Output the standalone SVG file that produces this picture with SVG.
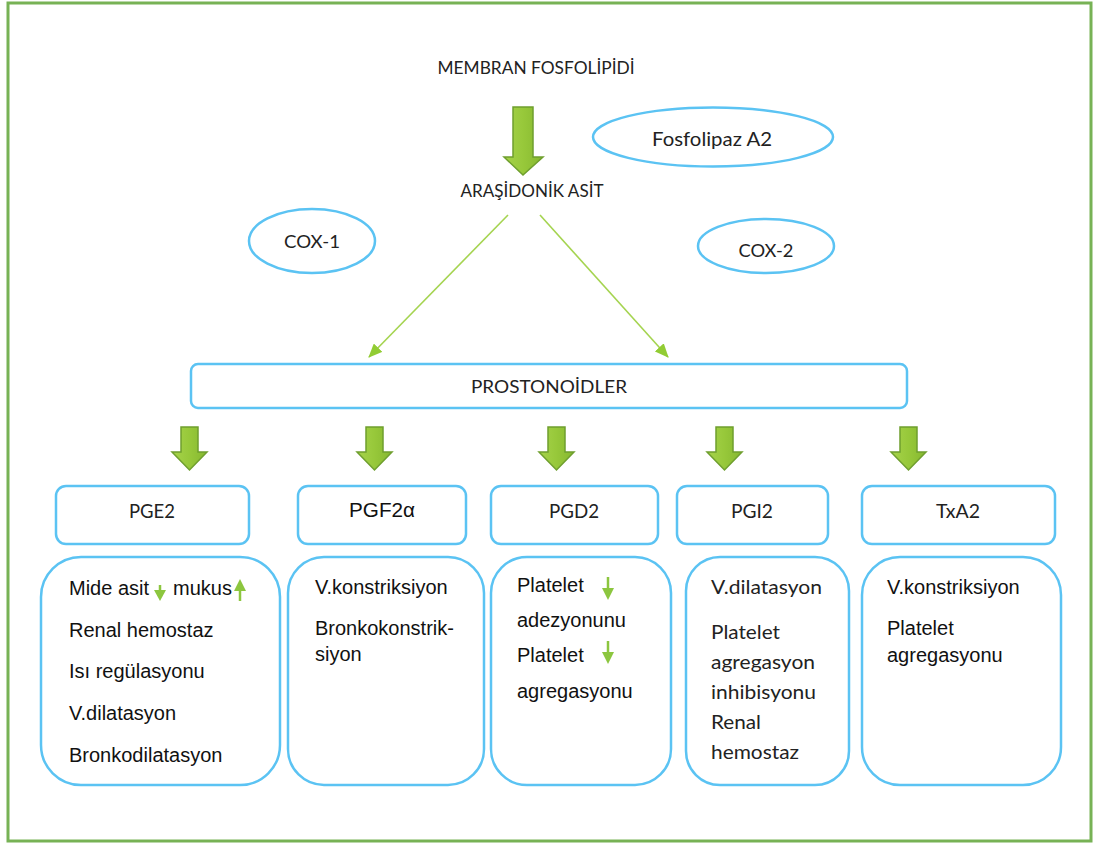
<svg xmlns="http://www.w3.org/2000/svg" width="1094" height="844" viewBox="0 0 1094 844">
<defs>
<style>
.cal{font-family:Lato,"Open Sans","Liberation Sans",sans-serif;fill:#222}
.ar{font-family:"Liberation Sans",Arial,sans-serif;font-size:20px;fill:#111}
.el{fill:#fff;stroke:#5bc3f3;stroke-width:2.5}
.bx{fill:#fff;stroke:#5bc3f3;stroke-width:2.5}
.big{fill:url(#g);stroke:#6f9f2e;stroke-width:1.5}
.con{stroke:#a5d450;stroke-width:1.6;fill:none}
.sm{fill:#8cc63f}
.smln{stroke:#8cc63f;stroke-width:2.5}
</style>
<linearGradient id="g" x1="0" y1="0" x2="1" y2="0">
<stop offset="0" stop-color="#a6d34a"/>
<stop offset="0.5" stop-color="#97c83a"/>
<stop offset="1" stop-color="#86b830"/>
</linearGradient>
<marker id="ah" viewBox="0 0 14 12" refX="13" refY="6" markerWidth="14" markerHeight="12" markerUnits="userSpaceOnUse" orient="auto">
<path d="M0,0 L14,6 L0,12 Z" fill="#92cc34"/>
</marker>
</defs>
<rect x="0" y="0" width="1094" height="844" fill="#fff"/>
<rect x="8" y="3" width="1083" height="838" fill="none" stroke="#77b255" stroke-width="3"/>

<g id="membran">
<text class="cal" x="536" y="74" font-size="18" text-anchor="middle" textLength="197" lengthAdjust="spacingAndGlyphs">MEMBRAN FOSFOLİPİDİ</text>
</g>
<g id="arrow-main">
<polygon class="big" points="513,107 533,107 533,157 543,157 523,175 504,157 513,157"/>
</g>
<g id="fosfolipaz">
<ellipse class="el" cx="713" cy="137" rx="120" ry="29.5"/>
<text class="cal" x="712" y="146" font-size="19" text-anchor="middle" textLength="120" lengthAdjust="spacingAndGlyphs">Fosfolipaz A2</text>
</g>
<g id="arasidonik">
<text class="cal" x="532" y="197" font-size="18" text-anchor="middle" textLength="143" lengthAdjust="spacingAndGlyphs">ARAŞİDONİK ASİT</text>
</g>
<g id="cox1">
<ellipse class="el" cx="312" cy="241" rx="63" ry="32"/>
<text class="cal" x="312" y="248" font-size="18" text-anchor="middle" textLength="56" lengthAdjust="spacingAndGlyphs">COX-1</text>
</g>
<g id="cox2">
<ellipse class="el" cx="766" cy="246" rx="68" ry="27"/>
<text class="cal" x="766" y="257" font-size="18" text-anchor="middle" textLength="55" lengthAdjust="spacingAndGlyphs">COX-2</text>
</g>

<g id="connectors">
<line class="con" x1="508" y1="215" x2="369" y2="357" marker-end="url(#ah)"/>
<line class="con" x1="540" y1="215" x2="668" y2="357" marker-end="url(#ah)"/>
</g>

<g id="prostonoidler">
<rect class="bx" x="191" y="364" width="716" height="44" rx="7"/>
<text class="cal" x="549" y="393" font-size="18" text-anchor="middle" textLength="156" lengthAdjust="spacingAndGlyphs">PROSTONOİDLER</text>
</g>

<g id="down-arrows">
<polygon class="big" points="181,427 198,427 198,452 207,452 189.5,470 172,452 181,452"/>
<polygon class="big" points="366,427 383,427 383,452 392,452 374.5,470 357,452 366,452"/>
<polygon class="big" points="548,427 565,427 565,452 574,452 556.5,470 539,452 548,452"/>
<polygon class="big" points="716,427 733,427 733,452 742,452 724.5,470 707,452 716,452"/>
<polygon class="big" points="900,427 917,427 917,452 926,452 908.5,470 891,452 900,452"/>
</g>

<g id="pge2">
<rect class="bx" x="56" y="486" width="193" height="58" rx="10"/>
<text class="cal" x="152" y="518" font-size="19" text-anchor="middle" textLength="46" lengthAdjust="spacingAndGlyphs">PGE2</text>
</g>
<g id="pgf2a">
<rect class="bx" x="298" y="486" width="168" height="58" rx="10"/>
<text class="ar" x="382" y="517" text-anchor="middle" textLength="66" lengthAdjust="spacingAndGlyphs">PGF2α</text>
</g>
<g id="pgd2">
<rect class="bx" x="491" y="486" width="167" height="58" rx="10"/>
<text class="cal" x="574" y="518" font-size="19" text-anchor="middle" textLength="50" lengthAdjust="spacingAndGlyphs">PGD2</text>
</g>
<g id="pgi2">
<rect class="bx" x="677" y="486" width="151" height="58" rx="10"/>
<text class="cal" x="752" y="518" font-size="19" text-anchor="middle" textLength="42" lengthAdjust="spacingAndGlyphs">PGI2</text>
</g>
<g id="txa2">
<rect class="bx" x="862" y="486" width="193" height="58" rx="10"/>
<text class="cal" x="958" y="518" font-size="19" text-anchor="middle" textLength="44" lengthAdjust="spacingAndGlyphs">TxA2</text>
</g>

<g id="pge2-effects">
<rect class="bx" x="41" y="557" width="239" height="228" rx="40"/>
<text class="ar" x="69" y="595">Mide asit</text>
<line class="smln" x1="160" y1="585" x2="160" y2="592"/>
<polygon class="sm" points="154,590 166,590 160,601"/>
<text class="ar" x="173" y="595">mukus</text>
<line class="smln" x1="240" y1="588" x2="240" y2="601"/>
<polygon class="sm" points="234,591 246,591 240,579"/>
<text class="ar" x="69" y="637">Renal hemostaz</text>
<text class="ar" x="69" y="678">Isı regülasyonu</text>
<text class="ar" x="69" y="720">V.dilatasyon</text>
<text class="ar" x="69" y="762">Bronkodilatasyon</text>
</g>
<g id="pgf2a-effects">
<rect class="bx" x="288" y="557" width="196" height="228" rx="36"/>
<text class="ar" x="315" y="594">V.konstriksiyon</text>
<text class="ar" x="315" y="635">Bronkokonstrik-</text>
<text class="ar" x="315" y="661">siyon</text>
</g>
<g id="pgd2-effects">
<rect class="bx" x="491" y="557" width="180" height="228" rx="36"/>
<text class="ar" x="517" y="592">Platelet</text>
<line class="smln" x1="608" y1="577" x2="608" y2="590"/>
<polygon class="sm" points="602,588 614,588 608,600"/>
<text class="ar" x="517" y="627">adezyonunu</text>
<text class="ar" x="517" y="662">Platelet</text>
<line class="smln" x1="608" y1="641" x2="608" y2="654"/>
<polygon class="sm" points="602,652 614,652 608,664"/>
<text class="ar" x="517" y="698">agregasyonu</text>
</g>
<g id="pgi2-effects">
<rect class="bx" x="686" y="557" width="163" height="228" rx="34"/>
<text class="cal" x="711" y="594" font-size="19" textLength="111" lengthAdjust="spacingAndGlyphs">V.dilatasyon</text>
<text class="cal" x="711" y="639" font-size="19" textLength="69" lengthAdjust="spacingAndGlyphs">Platelet</text>
<text class="cal" x="711" y="669" font-size="19" textLength="104" lengthAdjust="spacingAndGlyphs">agregasyon</text>
<text class="cal" x="711" y="699" font-size="19" textLength="105" lengthAdjust="spacingAndGlyphs">inhibisyonu</text>
<text class="cal" x="711" y="729" font-size="19" textLength="50" lengthAdjust="spacingAndGlyphs">Renal</text>
<text class="cal" x="711" y="759" font-size="19" textLength="88" lengthAdjust="spacingAndGlyphs">hemostaz</text>
</g>
<g id="txa2-effects">
<rect class="bx" x="862" y="557" width="199" height="228" rx="38"/>
<text class="ar" x="887" y="594">V.konstriksiyon</text>
<text class="ar" x="887" y="635">Platelet</text>
<text class="ar" x="887" y="662">agregasyonu</text>
</g>
</svg>
